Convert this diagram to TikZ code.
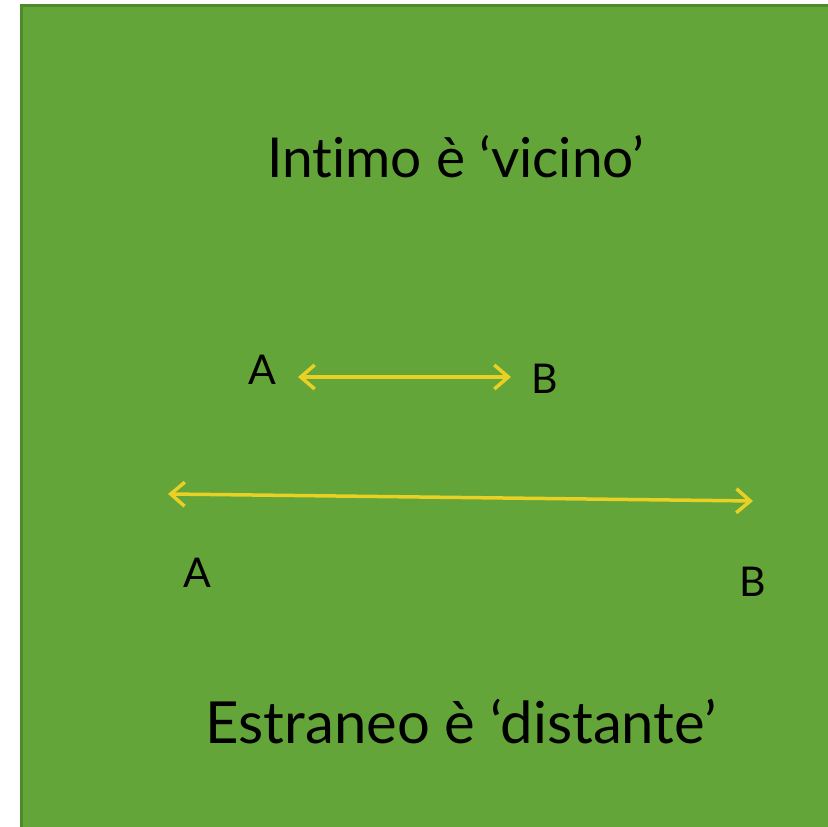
\documentclass[tikz,border=0pt]{standalone}
\usepackage{fontspec}
\setmainfont{Lato}[Ligatures={NoCommon,NoRare}]
\usetikzlibrary{arrows.meta}
\definecolor{bgg}{HTML}{63A538}
\definecolor{bdg}{HTML}{4C8A2C}
\definecolor{yel}{HTML}{E8D024}
\tikzset{
  title/.style={font=\fontsize{58}{60}\selectfont, text=black, inner sep=0pt},
  lab/.style={font=\fontsize{41}{44}\selectfont, text=black, inner sep=0pt},
  dbl/.style={draw=yel, line width=3.5pt, {Straight Barb[length=14pt,width=24pt,line width=3.5pt]}-{Straight Barb[length=14pt,width=24pt,line width=3.5pt]}}
}
\begin{document}
\begin{tikzpicture}[x=1pt,y=1pt]
\useasboundingbox (0,0) rectangle (828,827);
\begin{scope}
\clip (0,0) rectangle (828,827);
\draw[bdg, fill=bgg, line width=3pt] (21.5,-10) rectangle (840,821.5);
\end{scope}
\node[title, font=\fontsize{55}{58}\selectfont] (t1) at (456,670) {Intimo è ‘vicino’};
\node[title] (t2) at (461,105) {Estraneo è ‘distante’};
\node[lab] (a1) at (262,457) {A};
\node[lab] (b1) at (545,448) {B};
\node[lab] (a2) at (197,254) {A};
\node[lab] (b2) at (753,245) {B};
\coordinate (p1) at (298,450);
\coordinate (q1) at (511,450);
\coordinate (p2) at (168,333);
\coordinate (q2) at (753,326);
\draw[dbl] (p1) -- (q1);
\draw[dbl] (p2) -- (q2);
\end{tikzpicture}
\end{document}
